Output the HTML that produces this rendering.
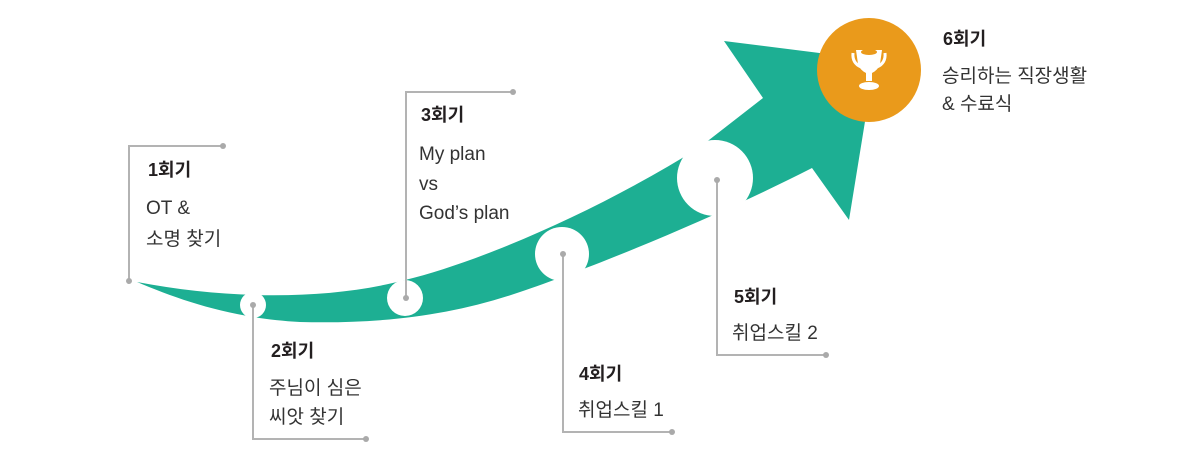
<!DOCTYPE html>
<html><head><meta charset="utf-8"><style>
body{margin:0;background:#fff;}
svg{display:block}
text{font-family:"Liberation Sans","Noto Sans CJK KR",sans-serif;fill:#231f20}
.b{font-weight:bold;font-size:18px}
.t{font-size:19px;fill:#333}
</style></head><body>
<svg width="1200" height="468" viewBox="0 0 1200 468">
<path d="M137,282 C230,300 330,300 405,280 C480,262 600,210 700,147 L763,98 L724,41 L875,60 L849,220 L812,168 C720,215 600,265 520,292 C450,316 380,324 300,322 C230,318 180,300 137,282 Z" fill="#1daf93"/>
<circle cx="869" cy="70" r="52" fill="#ea9a1b"/>
<g fill="#fff">
<path d="M856,50 h26 l-2,14 q-2,6 -8,9 v8 h-6 v-8 q-6,-3 -8,-9 z"/>
<ellipse cx="869" cy="52" rx="8" ry="3" fill="#ea9a1b"/>
<path d="M853,53 q-1,10 8,14" stroke="#fff" stroke-width="3" fill="none"/>
<path d="M885,53 q1,10 -8,14" stroke="#fff" stroke-width="3" fill="none"/>
<ellipse cx="869" cy="86" rx="10" ry="4"/>
<circle cx="253" cy="305" r="13"/>
<circle cx="405" cy="298" r="18"/>
<circle cx="562" cy="254" r="27"/>
<circle cx="715" cy="178" r="38"/>
</g>
<g stroke="#b3b3b3" stroke-width="2" fill="none">
<polyline points="129,281 129,146 223,146"/>
<polyline points="253,305 253,439 366,439"/>
<polyline points="406,298 406,92 513,92"/>
<polyline points="563,254 563,432 672,432"/>
<polyline points="717,180 717,355 826,355"/>
</g>
<g fill="#aaa">
<circle cx="129" cy="281" r="3"/><circle cx="223" cy="146" r="3"/>
<circle cx="253" cy="305" r="3"/><circle cx="366" cy="439" r="3"/>
<circle cx="406" cy="298" r="3"/><circle cx="513" cy="92" r="3"/>
<circle cx="563" cy="254" r="3"/><circle cx="672" cy="432" r="3"/>
<circle cx="717" cy="180" r="3"/><circle cx="826" cy="355" r="3"/>
</g>
<text class="b" x="148" y="176">1회기</text>
<text class="t" x="146" y="214">OT &amp;</text>
<text class="t" x="146" y="245">소명 찾기</text>
<text class="b" x="271" y="357">2회기</text>
<text class="t" x="269" y="394">주님이 심은</text>
<text class="t" x="269" y="423">씨앗 찾기</text>
<text class="b" x="421" y="121">3회기</text>
<text class="t" x="419" y="160">My plan</text>
<text class="t" x="419" y="190">vs</text>
<text class="t" x="419" y="219">God’s plan</text>
<text class="b" x="579" y="380">4회기</text>
<text class="t" x="578" y="416">취업스킬 1</text>
<text class="b" x="734" y="303">5회기</text>
<text class="t" x="732" y="339">취업스킬 2</text>
<text class="b" x="943" y="45">6회기</text>
<text class="t" x="942" y="82">승리하는 직장생활</text>
<text class="t" x="942" y="110">&amp; 수료식</text>
</svg>
</body></html>
